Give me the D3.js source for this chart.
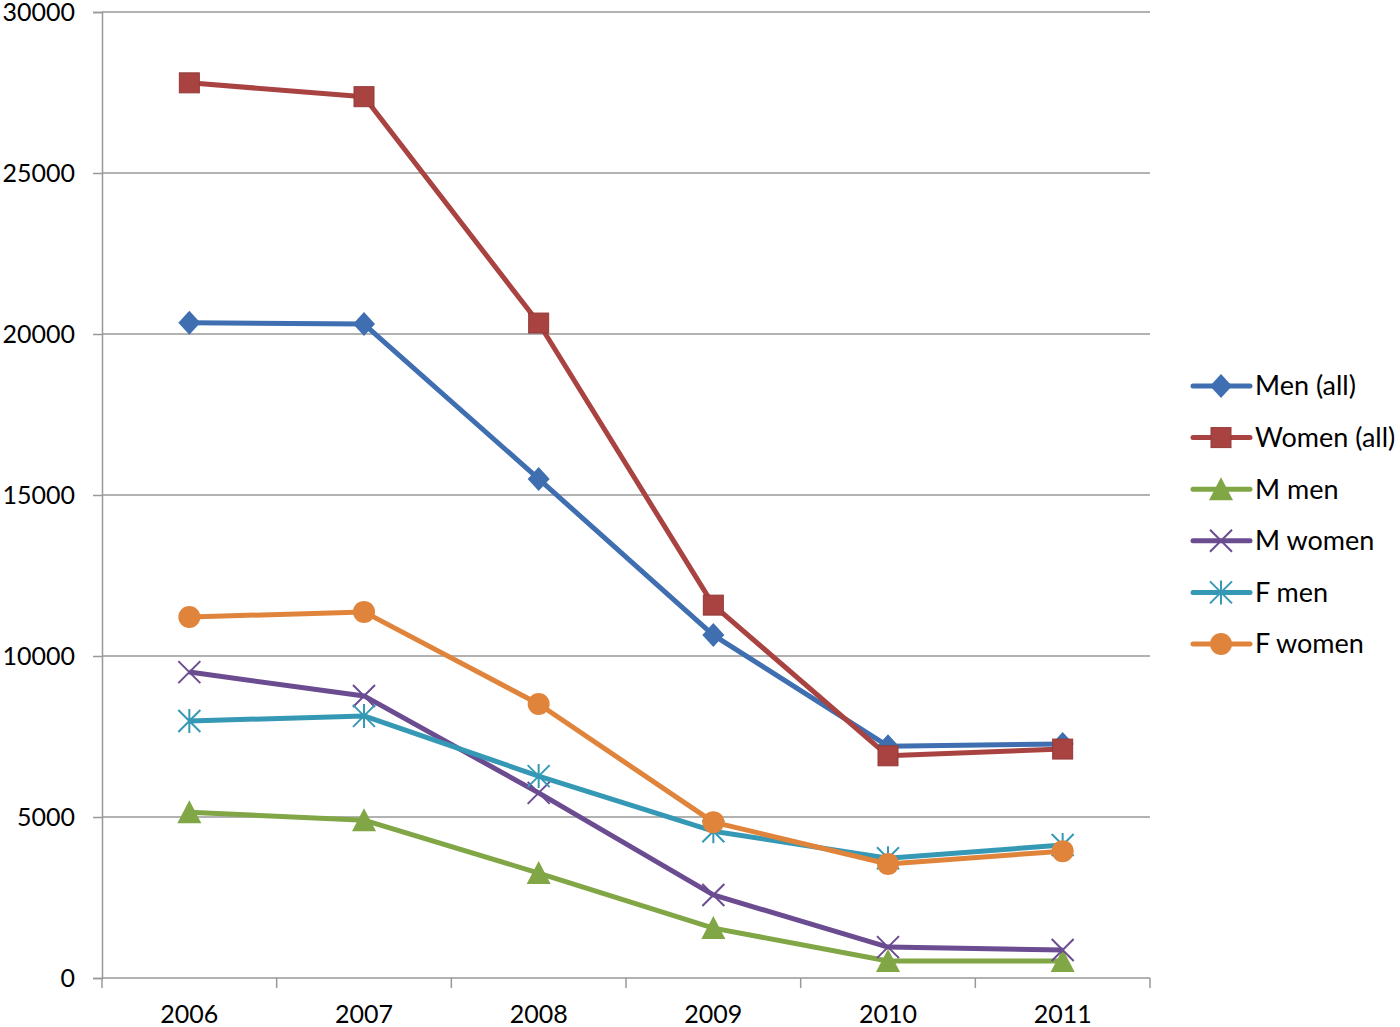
<!DOCTYPE html>
<html>
<head>
<meta charset="utf-8">
<script src="https://cdn.jsdelivr.net/npm/d3@7"></script>
<style>
  body { margin: 0; background: #fff; }
  text { font-family: Lato, "Open Sans", sans-serif; fill: #000; }
</style>
</head>
<body>
<svg id="chart"></svg>
<script>
const years = ['2006', '2007', '2008', '2009', '2010', '2011'];
const yTicks = [0, 5000, 10000, 15000, 20000, 25000, 30000];

const menAll   = [20350, 20310, 15500, 10650, 7200, 7270];
const womenAll = [27800, 27370, 20340, 11580, 6900, 7110];
const mMen     = [5150, 4900, 3260, 1550, 530, 530];
const mWomen   = [9500, 8760, 5750, 2580, 960, 870];
const fMen     = [7980, 8140, 6270, 4560, 3720, 4130];
const fWomen   = [11210, 11370, 8510, 4840, 3540, 3940];

const seriesNames  = ['Men (all)', 'Women (all)', 'M men', 'M women', 'F men', 'F women'];
const seriesColors = ['#3F6FB0', '#A94341', '#80A645', '#6B4C91', '#3599B5', '#E0843B'];
const seriesMarks  = ['diamond', 'square', 'triangle', 'x', 'star', 'circle'];
const seriesData   = [menAll, womenAll, mMen, mWomen, fMen, fWomen];

const width = 1400, height = 1027;
const margin = { top: 12, right: 250, bottom: 49, left: 102 };
const innerW = width - margin.left - margin.right;
const innerH = height - margin.top - margin.bottom;

const svg = d3.select('#chart')
    .attr('width', width)
    .attr('height', height);

const g = svg.append('g')
    .attr('transform', `translate(${margin.left},${margin.top})`);

const x = d3.scaleBand()
    .domain(years)
    .range([0, innerW]);

const y = d3.scaleLinear()
    .domain([0, 30000])
    .range([innerH, 0]);

// gridlines
g.append('g')
    .selectAll('line')
    .data(yTicks.filter(d => d > 0))
    .enter()
    .append('line')
    .attr('x1', 0)
    .attr('x2', innerW)
    .attr('y1', d => y(d))
    .attr('y2', d => y(d))
    .attr('stroke', '#999')
    .attr('stroke-width', 1.5);

// y axis
const yAxis = g.append('g')
    .call(d3.axisLeft(y).tickValues(yTicks).tickSize(9).tickPadding(18).tickFormat(d3.format('d')));
yAxis.select('.domain').attr('stroke', '#999').attr('stroke-width', 1.5);
yAxis.selectAll('.tick line').attr('stroke', '#999').attr('stroke-width', 1.5);
yAxis.selectAll('.tick text').attr('font-size', 25).style('font-family', 'Lato, sans-serif');

// x axis: ticks on band boundaries
const xAxis = g.append('g')
    .attr('transform', `translate(0,${innerH})`);
xAxis.append('line')
    .attr('x1', 0).attr('x2', innerW)
    .attr('stroke', '#999').attr('stroke-width', 1.5);
xAxis.selectAll('.bt')
    .data(years.concat(['end']))
    .enter()
    .append('line')
    .attr('class', 'bt')
    .attr('x1', (d, i) => i < years.length ? x(d) : innerW)
    .attr('x2', (d, i) => i < years.length ? x(d) : innerW)
    .attr('y1', 0).attr('y2', 10)
    .attr('stroke', '#999').attr('stroke-width', 1.5);
xAxis.selectAll('.lbl')
    .data(years)
    .enter()
    .append('text')
    .attr('class', 'lbl')
    .attr('x', d => x(d) + x.bandwidth() / 2)
    .attr('y', 45)
    .attr('text-anchor', 'middle')
    .attr('font-size', 25)
    .text(d => d);

const cx = d => x(d) + x.bandwidth() / 2;

function drawMarker(sel, type, color) {
    if (type === 'diamond') {
        sel.append('path').attr('d', 'M0,-12L11,0L0,12L-11,0Z').attr('fill', color);
    } else if (type === 'square') {
        sel.append('rect').attr('x', -10).attr('y', -10).attr('width', 20).attr('height', 20)
            .attr('fill', color).attr('stroke', d3.color(color).darker(0.4)).attr('stroke-width', 1);
    } else if (type === 'triangle') {
        sel.append('path').attr('d', 'M0,-12L12,11L-12,11Z').attr('fill', color);
    } else if (type === 'circle') {
        sel.append('circle').attr('r', 11).attr('fill', color);
    } else if (type === 'x') {
        sel.append('path').attr('d', 'M-11,-11L11,11M-11,11L11,-11')
            .attr('stroke', color).attr('stroke-width', 2).attr('fill', 'none');
    } else if (type === 'star') {
        sel.append('path').attr('d', 'M-11,-11L11,11M-11,11L11,-11M0,-12L0,12')
            .attr('stroke', color).attr('stroke-width', 2).attr('fill', 'none');
    }
}

const line = d3.line()
    .x((d, i) => cx(years[i]))
    .y(d => y(d));

seriesData.forEach((vals, s) => {
    g.append('path')
        .datum(vals)
        .attr('d', line)
        .attr('fill', 'none')
        .attr('stroke', seriesColors[s])
        .attr('stroke-width', 5)
        .attr('stroke-linejoin', 'round');
    vals.forEach((v, i) => {
        const m = g.append('g').attr('transform', `translate(${cx(years[i])},${y(v)})`);
        drawMarker(m, seriesMarks[s], seriesColors[s]);
    });
});

// legend
const legend = svg.append('g').attr('transform', 'translate(1193,386)');
seriesNames.forEach((name, s) => {
    const row = legend.append('g').attr('transform', `translate(0,${s * 51.6})`);
    row.append('line')
        .attr('x1', 0).attr('x2', 57)
        .attr('stroke', seriesColors[s]).attr('stroke-width', 5).attr('stroke-linecap', 'round');
    const m = row.append('g').attr('transform', 'translate(28,0)');
    drawMarker(m, seriesMarks[s], seriesColors[s]);
    row.append('text')
        .attr('x', 62)
        .attr('y', 0)
        .attr('dy', '0.35em')
        .attr('font-size', 27)
        .text(name);
});
</script>
</body>
</html>
